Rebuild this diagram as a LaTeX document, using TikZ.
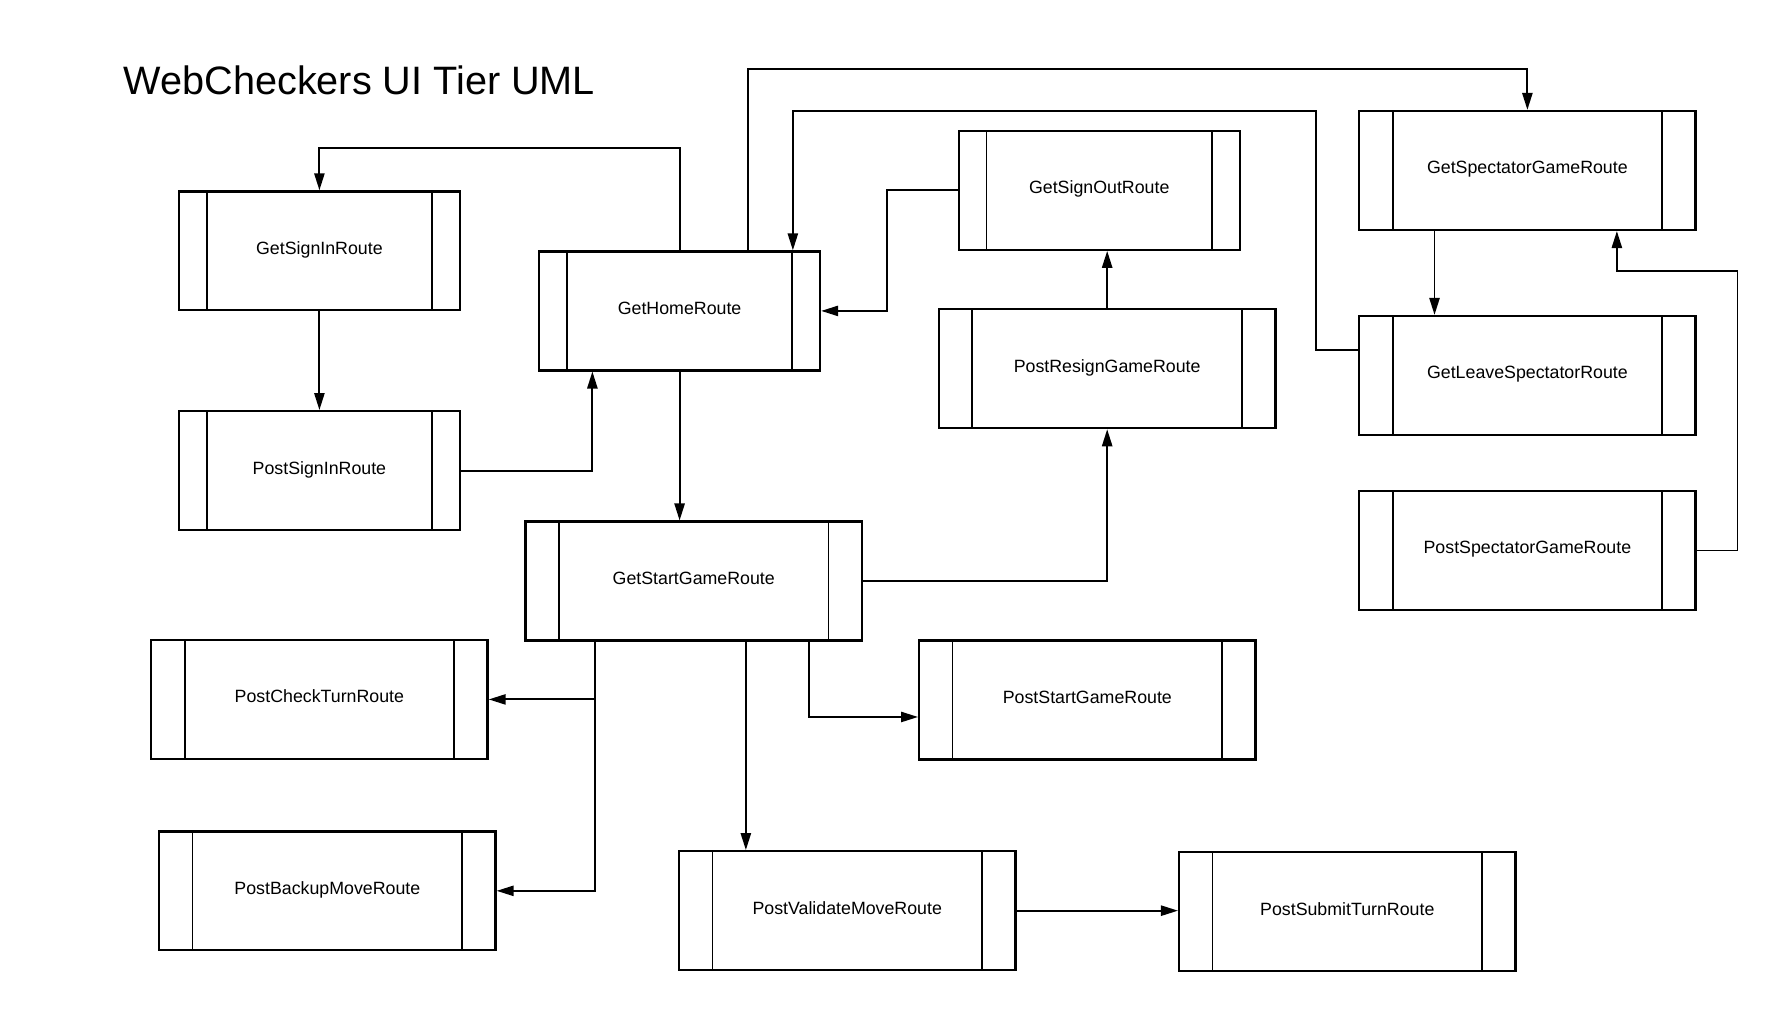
\documentclass[tikz,border=0pt]{standalone}
\usepackage{fontspec}
\setmainfont{Liberation Sans}
\usepackage{tikz}
\usetikzlibrary{arrows.meta, calc, positioning}
\usepackage{xcolor}

\newcommand\routefont{\fontsize{15.7}{18}\selectfont}
\newcommand\titlefont{\fontsize{35}{40}\selectfont}

\tikzset{
  routebox/.style={draw, line width=2pt, minimum height=105pt, inner sep=0pt, font=\routefont,
    text height=12pt, text depth=5.8pt,
    path picture={
      \draw[line width=1.6pt] ([xshift=#1]path picture bounding box.north west) -- ([xshift=#1]path picture bounding box.south west);
      \draw[line width=1.6pt] ([xshift=-#1]path picture bounding box.north east) -- ([xshift=-#1]path picture bounding box.south east);
    }},
  shortroute/.style={routebox=24.5pt, minimum width=248pt},
  longroute/.style={routebox=29.5pt, minimum width=297pt},
  flow/.style={-{Triangle[length=15pt, width=9pt]}, line width=1.7pt},
}

\begin{document}
\begin{tikzpicture}[x=1pt, y=-1pt]
  \useasboundingbox (0,0) rectangle (1568,892);

  % title
  \node[anchor=base west, inner sep=0pt, font=\titlefont] (title) at (109,83) {WebCheckers UI Tier UML};

  % sign in / home
  \node[shortroute] (signin) at (282,221.5) {GetSignInRoute};
  \node[shortroute] (postsignin) at (282,415.5) {PostSignInRoute};
  \node[shortroute] (home) at (600,274.5) {GetHomeRoute};
  \node[shortroute] (signout) at (970.5,168) {GetSignOutRoute};
  \node[longroute] (resign) at (977.5,325.5) {PostResignGameRoute};

  % spectator routes
  \node[longroute] (spectator) at (1348.5,150.5) {GetSpectatorGameRoute};
  \node[longroute] (leave) at (1348.5,331.5) {GetLeaveSpectatorRoute};
  \node[longroute] (postspectator) at (1348.5,486) {PostSpectatorGameRoute};

  % game routes
  \node[longroute] (startgame) at (612.5,513) {GetStartGameRoute};
  \node[longroute] (checkturn) at (282,617.5) {PostCheckTurnRoute};
  \node[longroute] (poststart) at (960,618) {PostStartGameRoute};
  \node[longroute] (backup) at (289,786.5) {PostBackupMoveRoute};
  \node[longroute] (validate) at (748,804) {PostValidateMoveRoute};
  \node[longroute] (submit) at (1189.5,805) {PostSubmitTurnRoute};

  % connectors
  \draw[flow] (home.north) -- ++(0,-90) -| (signin.north);
  \draw[flow] (signin.south) -- (postsignin.north);
  \draw[flow] (postsignin.east) -| ([xshift=-77pt]home.south);
  \draw[flow] (home.south) -- (home.south |- startgame.north);
  \draw[flow] ([xshift=60pt]home.north) -- ++(0,-160) -| (spectator.north);
  \draw[flow] ([yshift=22.5pt]leave.west) -- ++(-37,0) -- ++(0,-211) -| ([xshift=100pt]home.north);
  \draw[flow] (signout.west) -- ++(-62.5,0) |- (home.east);
  \draw[flow] (resign.north) -- (resign.north |- signout.south);
  \draw[flow] (startgame.east) -| (resign.south);
  \draw[flow] ([xshift=-82pt]spectator.south) -- ([xshift=-82pt]spectator.south |- leave.north);
  \draw[flow] (postspectator.east) -| ++(36,-247) -| ([xshift=79pt]spectator.south);
  \draw[flow] ([xshift=-87pt]startgame.south) |- (checkturn.east);
  \draw[flow] ([xshift=-87pt]startgame.south) |- (backup.east);
  \draw[flow] ([xshift=46pt]startgame.south) -- ([xshift=46pt]startgame.south |- validate.north);
  \draw[flow] ([xshift=101.5pt]startgame.south) |- ([yshift=-15pt]poststart.west);
  \draw[flow] (validate.east) -- (validate.east -| submit.west);
\end{tikzpicture}
\end{document}
